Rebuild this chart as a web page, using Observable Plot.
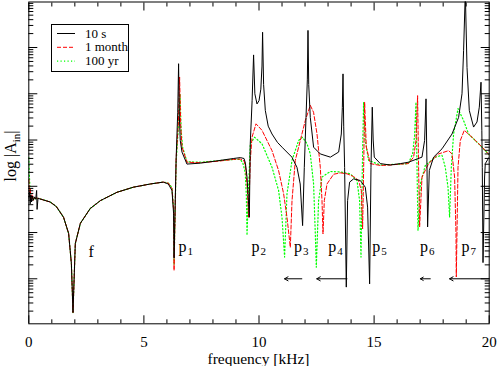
<!DOCTYPE html>
<html><head><meta charset="utf-8">
<script src="https://cdn.jsdelivr.net/npm/d3@7"></script>
<script src="https://cdn.jsdelivr.net/npm/@observablehq/plot@0.6"></script>
<style>body{margin:0;background:#fff}svg{display:block}</style>
</head><body><div id="chart"></div>
<script>
// series names & colours
const seriesNames = ["10 s", "1 month", "100 yr"];
const seriesColors = ["#000000", "#ff0000", "#00ff00"];

// [frequency kHz, log10 |A_in|]
const lowBand = [[0.4,2.74],[0.93,2.66],[1.2,2.56],[1.51,2.33],[1.73,1.98],[1.85,1.33],[1.92,0.27],[2.02,1.76],[2.24,2.2],[2.67,2.52],[3.11,2.69],[3.83,2.87],[4.54,2.98],[5.28,3.05],[5.84,3.09]];

const start10s = [[0,2.74],[0.03,2.88],[0.06,2.62],[0.09,2.82],[0.12,2.66],[0.16,2.79],[0.2,2.7],[0.25,2.77],[0.3,2.72],[0.34,2.91],[0.36,2.5]];
const rest10s = [[6.06,3.05],[6.22,2.91],[6.29,2.41],[6.31,1.45],[6.4,3.6],[6.47,4.6],[6.507,5.65],[6.54,4.5],[6.58,3.99],[6.655,3.74],[6.87,3.48],[7.45,3.5],[8.18,3.55],[8.88,3.6],[9.19,3.62],[9.35,3.6],[9.41,3.5],[9.48,3.2],[9.55,2.6],[9.58,2.33],[9.62,3.92],[9.7,4.85],[9.765,5.84],[9.82,5.0],[9.913,4.78],[10.0,4.85],[10.08,5.1],[10.13,5.6],[10.156,6.33],[10.2,5.2],[10.274,4.64],[10.4,4.3],[10.565,4.13],[10.8,3.95],[11.0,3.845],[11.43,3.63],[11.65,3.41],[11.79,3.05],[11.894,2.15],[11.968,3.41],[12.042,4.49],[12.1,5.3],[12.128,6.37],[12.16,5.2],[12.228,4.49],[12.372,3.845],[12.66,3.7],[13.1,3.63],[13.46,3.74],[13.575,4.13],[13.62,4.7],[13.649,5.43],[13.68,4.3],[13.719,3.41],[13.792,0.82],[13.849,2.69],[13.936,3.09],[14.11,3.16],[14.4,3.125],[14.618,2.98],[14.718,2.55],[14.805,0.89],[14.865,3.41],[14.921,4.71],[14.96,4.0],[15.008,3.63],[15.27,3.49],[15.7,3.46],[16.14,3.49],[16.49,3.52],[17.08,3.63],[17.194,3.99],[17.255,4.89],[17.28,4.0],[17.298,3.41],[17.324,2.12],[17.398,3.34],[17.585,3.63],[17.95,3.81],[18.384,4.13],[18.671,4.49],[18.819,5.0],[18.888,5.94],[18.962,7.2],[19.036,5.57],[19.136,4.64],[19.322,4.28],[19.47,4.39],[19.57,4.71],[19.644,5.25],[19.68,4.2],[19.7,3.41],[19.731,1.35],[19.8,3.2],[19.83,3.49],[20,3.63]];

const start1m = [[0,3.15],[0.03,2.8],[0.06,2.95],[0.1,2.7],[0.15,2.82],[0.2,2.7],[0.3,2.75]];
const rest1m = [[6.06,3.07],[6.22,2.95],[6.29,2.5],[6.31,1.18],[6.4,3.6],[6.5,4.4],[6.551,5.36],[6.6,4.3],[6.655,3.85],[6.87,3.52],[7.45,3.51],[8.18,3.54],[8.88,3.58],[9.19,3.59],[9.35,3.55],[9.42,3.4],[9.5,2.9],[9.548,2.33],[9.622,3.56],[9.696,4.06],[9.87,4.35],[10.13,4.21],[10.565,3.77],[10.851,3.34],[11.069,2.84],[11.216,2.33],[11.36,1.68],[11.434,2.69],[11.577,3.56],[11.794,3.99],[12.011,4.42],[12.228,4.75],[12.37,4.6],[12.52,4.13],[12.663,3.41],[12.737,2.69],[12.78,1.97],[12.837,2.69],[12.954,3.05],[13.241,3.26],[13.532,3.29],[13.823,3.27],[14.11,3.21],[14.327,3.125],[14.444,2.91],[14.501,2.08],[14.55,3.5],[14.588,4.82],[14.661,3.85],[14.835,3.49],[15.27,3.45],[15.7,3.46],[16.14,3.48],[16.486,3.49],[16.716,3.63],[16.82,3.99],[16.89,4.96],[16.933,3.41],[16.977,2.12],[17.081,3.2],[17.368,3.49],[17.802,3.7],[18.236,3.77],[18.384,3.7],[18.497,3.2],[18.558,1.97],[18.571,1.04],[18.645,3.41],[18.745,3.99],[18.918,4.21],[19.253,4.06],[19.687,3.85],[20,3.68]];

const start100y = [[0,3.62],[0.02,3.3],[0.05,2.95],[0.08,2.8],[0.12,2.72],[0.2,2.76],[0.3,2.72]];
const rest100y = [[6.06,3.07],[6.22,2.97],[6.29,2.5],[6.31,1.3],[6.4,3.5],[6.5,4.3],[6.57,5.0],[6.62,4.2],[6.68,3.85],[6.87,3.53],[7.45,3.52],[8.18,3.55],[8.88,3.58],[9.19,3.58],[9.3,3.5],[9.4,3.3],[9.45,2.8],[9.479,1.94],[9.55,3.0],[9.622,3.92],[9.809,4.06],[10.13,3.92],[10.565,3.41],[10.851,2.91],[10.999,2.33],[11.112,1.47],[11.216,2.84],[11.434,3.56],[11.72,3.99],[11.894,4.06],[12.085,3.92],[12.228,3.7],[12.372,3.05],[12.446,1.97],[12.489,1.25],[12.589,2.69],[12.737,3.2],[13.097,3.32],[13.532,3.31],[13.966,3.27],[14.257,3.125],[14.37,2.69],[14.431,1.47],[14.488,3.41],[14.544,4.82],[14.618,3.99],[14.761,3.56],[15.27,3.46],[16.14,3.48],[16.486,3.49],[16.672,3.7],[16.76,4.1],[16.82,4.82],[16.864,3.41],[16.907,2.04],[17.008,3.05],[17.224,3.45],[17.659,3.63],[17.95,3.67],[18.093,3.41],[18.21,2.98],[18.28,2.33],[18.354,3.41],[18.453,4.13],[18.645,4.68],[18.888,4.42],[19.105,4.13],[19.54,3.92],[20,3.68]];

// annotations
const annText = ["f","p","p","p","p","p","p","p"];
const annSub = ["","1","2","3","4","5","6","7"];
const annX = [2.59,6.5,9.67,11.52,13.01,14.92,16.99,18.8];
const annLog = [1.48,1.575,1.575,1.575,1.575,1.575,1.575,1.575];

// arrows (kHz), at |A| = 10
const arrowFrom = [11.86,13.82,17.44,19.98];
const arrowTo = [11.11,12.51,17.01,18.28];
const arrowLog = 1;

// ticks
const xMajor = [0,5,10,15,20];
const xMinor = d3.range(0,21).filter(v => v % 5 !== 0);
const xTickLabels = ["0","5","10","15","20"];
const yMajor = d3.range(1,7).map(k => 10 ** k);
const yMinor = d3.range(0,7).flatMap(k => d3.range(2,10).map(m => m * 10 ** k));

const toRows = (pts, name) => pts.map(([f, L]) => ({f, A: 10 ** L, series: name}));
const data10s = toRows([...start10s, ...lowBand, ...rest10s], seriesNames[0]);
const data1m = toRows([...start1m, ...lowBand, ...rest1m], seriesNames[1]);
const data100y = toRows([...start100y, ...lowBand, ...rest100y], seriesNames[2]);

const ann = annText.map((t, i) => ({t, sub: annSub[i], x: annX[i], A: 10 ** annLog[i]}));
const arrows = arrowFrom.map((a, i) => ({x1: a, x2: arrowTo[i], A: 10 ** arrowLog}));

const blank = () => "";
const chart = Plot.plot({
  width: 498, height: 366,
  marginLeft: 28.3, marginRight: 9.3, marginTop: 1.5, marginBottom: 42.7,
  style: {fontFamily: "'Liberation Serif', serif", fontSize: "15px", background: "white", color: "black"},
  x: {domain: [0, 20]},
  y: {type: "log", domain: [10 ** 0.027, 10 ** 6.984]},
  marks: [
    Plot.line(data100y, {x: "f", y: "A", stroke: seriesColors[2], strokeWidth: 1.2, strokeDasharray: "1.2,2.3", clip: true}),
    Plot.line(data1m, {x: "f", y: "A", stroke: seriesColors[1], strokeWidth: 1, strokeDasharray: "4,2", clip: true}),
    Plot.line(data10s, {x: "f", y: "A", stroke: seriesColors[0], strokeWidth: 1, clip: true}),
    Plot.axisX({anchor: "bottom", ticks: xMajor, tickSize: -8, tickFormat: blank, label: null}),
    Plot.axisX({anchor: "bottom", ticks: xMinor, tickSize: -4, tickFormat: blank, label: null}),
    Plot.axisX({anchor: "bottom", ticks: xMajor, tickSize: 0, tickPadding: 13, tickFormat: (d, i) => xTickLabels[i], label: null, fontSize: 15}),
    Plot.axisX({anchor: "top", ticks: xMajor, tickSize: -8, tickFormat: blank, label: null}),
    Plot.axisX({anchor: "top", ticks: xMinor, tickSize: -4, tickFormat: blank, label: null}),
    Plot.axisY({anchor: "left", ticks: yMajor, tickSize: -9, tickFormat: blank, label: null}),
    Plot.axisY({anchor: "left", ticks: yMinor, tickSize: -5, tickFormat: blank, label: null}),
    Plot.axisY({anchor: "right", ticks: yMajor, tickSize: -9, tickFormat: blank, label: null}),
    Plot.axisY({anchor: "right", ticks: yMinor, tickSize: -5, tickFormat: blank, label: null}),
    Plot.frame({stroke: "black"}),
    Plot.arrow(arrows, {x1: "x1", x2: "x2", y1: "A", y2: "A", stroke: "black", strokeWidth: 1, headLength: 6, headAngle: 60}),
    Plot.text(ann, {x: "x", y: "A", text: "t", textAnchor: "start", lineAnchor: "bottom", fontSize: 16}),
    Plot.text(ann, {x: "x", y: "A", text: "sub", textAnchor: "start", lineAnchor: "bottom", fontSize: 11, dx: 9, dy: 2.5})
  ]
});
document.getElementById("chart").append(chart);

const svg = d3.select(chart);
const font = "'Liberation Serif', serif";
// axis titles
svg.append("text").attr("x", 258.5).attr("y", 364).attr("text-anchor", "middle")
  .style("font-family", font).style("font-size", "15.5px").text("frequency [kHz]");
const yl = svg.append("text").attr("transform", "translate(16,156) rotate(-90)").attr("text-anchor", "middle")
  .style("font-family", font).style("font-size", "16px");
yl.append("tspan").text("log |A");
yl.append("tspan").attr("dy", 4).style("font-size", "11px").text("in");
yl.append("tspan").attr("dy", -4).text("|");

// legend
const lg = svg.append("g");
lg.append("rect").attr("x", 51.5).attr("y", 24.5).attr("width", 77).attr("height", 47)
  .attr("fill", "white").attr("stroke", "black");
const dashes = [null, "4,2", "1.2,2.3"];
seriesNames.forEach((name, i) => {
  const yy = 33.5 + i * 13.8;
  lg.append("line").attr("x1", 57).attr("x2", 75).attr("y1", yy).attr("y2", yy)
    .attr("stroke", seriesColors[i]).attr("stroke-width", i === 2 ? 1.2 : 1)
    .attr("stroke-dasharray", dashes[i]);
  lg.append("text").attr("x", 85).attr("y", yy + 4).attr("text-anchor", "start")
    .style("font-family", font).style("font-size", "13px").text(name);
});
</script></body></html>
